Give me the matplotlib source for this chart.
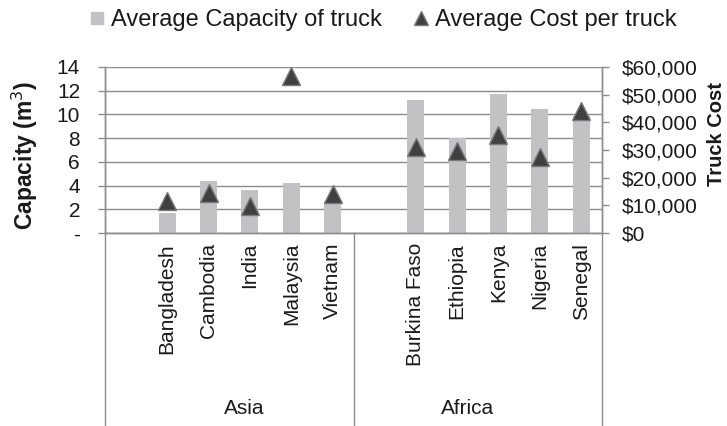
import numpy as np
import matplotlib
matplotlib.use("Agg")
import matplotlib.pyplot as plt
from matplotlib.lines import Line2D
from matplotlib.ticker import FuncFormatter

# values
regions = ["Asia", "Africa"]
countries = [
    ["Bangladesh", "Cambodia", "India", "Malaysia", "Vietnam"],
    ["Burkina Faso", "Ethiopia", "Kenya", "Nigeria", "Senegal"],
]
capacity = [1.7, 4.4, 3.6, 4.2, 2.6, 11.2, 8.0, 11.7, 10.5, 9.9]  # m3
cost = [11400, 14400, 9900, 56700, 14000, 31000, 29800, 35600, 27400, 44000]  # USD
cap_ticks = [0, 2, 4, 6, 8, 10, 12, 14]
cost_ticks = [0, 10000, 20000, 30000, 40000, 50000, 60000]

BAR = "#c2c2c4"
MARK = "#404040"
LINE = "#8c8c8c"
TXT = "#1a1a1a"

plt.rcParams["font.family"] = ["Liberation Sans", "DejaVu Sans"]
plt.rcParams["font.size"] = 15

W, H = 727, 426

# each region gets one empty slot in front of its countries
xpos, names, spans = [], [], []
slot = 0
for reg, cs in zip(regions, countries):
    start = slot
    slot += 1
    for c in cs:
        xpos.append(slot + 0.5)
        names.append(c)
        slot += 1
    spans.append((start, slot))
xpos = np.array(xpos)

fig = plt.figure(figsize=(W / 100, H / 100), dpi=100)
ax = fig.add_axes([105 / W, 1 - 233 / H, 497 / W, 166 / H])
ax2 = ax.twinx()

ax.bar(xpos, capacity, width=0.41, color=BAR, zorder=2)
ax2.plot(xpos, cost, linestyle="none", marker="^", markersize=12.5,
         markerfacecolor=MARK, markeredgecolor="#7a7a7a", markeredgewidth=1.0, zorder=3)

ax.set_xlim(0, slot)
ax.set_ylim(0, 14)
ax2.set_ylim(0, 60000)
ax.set_yticks(cap_ticks)
ax.set_yticklabels(["-" if t == 0 else str(t) for t in cap_ticks])
ax2.set_yticks(cost_ticks)
ax2.yaxis.set_major_formatter(FuncFormatter(lambda v, p: "${:,.0f}".format(v)))

ax.grid(axis="y", color=LINE, linewidth=1.0, zorder=0)
ax.set_axisbelow(True)
ax.set_xticks([])
for a in (ax, ax2):
    for s in a.spines.values():
        s.set_color(LINE)
        s.set_linewidth(1.0)
    a.spines["top"].set_visible(False)
ax.tick_params(axis="y", direction="out", length=5, width=1.0, color=LINE, pad=13, labelcolor=TXT)
ax2.tick_params(axis="y", direction="out", length=5, width=1.0, color=LINE, pad=9, labelcolor=TXT)
ax.set_zorder(ax2.get_zorder() - 1)
ax2.patch.set_visible(False)

# country labels and region boxes below the axis
trans = ax.get_xaxis_transform()
for x, n in zip(xpos, names):
    ax.text(x, -0.06, n, rotation=90, ha="center", va="top", color=TXT, transform=trans)
edges = sorted(set([e for sp in spans for e in sp]))
for e in edges:
    ax.plot([e, e], [0, -1.17], color=LINE, linewidth=1.0, transform=trans, clip_on=False)
for reg, (a, b) in zip(regions, spans):
    # excel puts the group names a bit toward the middle
    ax.text((a + b) / 2 + (0.35 if a == 0 else -0.25), -1.06, reg, ha="center", va="center",
            color=TXT, transform=trans)

# axis titles
fig.text(25 / W, 1 - 155 / H, "Capacity (m$^3$)", rotation=90, ha="center", va="center",
         fontsize=16.5, fontweight="bold", color=TXT)
fig.text(716 / W, 1 - 134 / H, "Truck Cost", rotation=90, ha="center", va="center",
         fontsize=14.5, fontweight="bold", color=TXT)

handles = [
    Line2D([], [], linestyle="none", marker="s", markersize=9, color=BAR),
    Line2D([], [], linestyle="none", marker="^", markersize=10.5,
           markerfacecolor=MARK, markeredgecolor="#7a7a7a"),
]
fig.legend(handles, ["Average Capacity of truck", "Average Cost per truck"],
           loc="center", bbox_to_anchor=(383 / W, 1 - 20 / H), ncol=2, frameon=False,
           fontsize=17, handlelength=0.7, handletextpad=0.25, columnspacing=1.3,
           labelcolor=TXT)

fig.savefig("out.png", dpi=100)
